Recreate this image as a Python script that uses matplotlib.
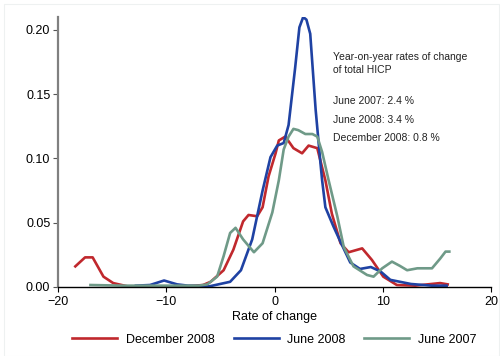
#density of HICP rates of change, three dates
import numpy as np
import matplotlib.pyplot as plt
from matplotlib.patches import Rectangle

plt.rcParams['font.family'] = ['Liberation Sans', 'DejaVu Sans']

#December 2008
dec08_x = [-18.4, -17.5, -16.8, -15.8, -14.9, -13.6, -12, -10, -8, -6.6, -5.9, -4.7, -3.8, -2.9, -2.4, -1.6, -1.1,
           -0.55, 0.1, 0.4, 1.0, 1.75, 2.55, 3.15, 3.95, 4.7, 5.3, 6.1, 6.85, 8.1, 9.0, 10.05, 11.3, 13, 15.3, 16]
dec08_y = [0.016, 0.023, 0.023, 0.008, 0.003, 0.0005, 0.0003, 0.0003, 0.0005, 0.0015, 0.004, 0.013, 0.029, 0.051, 0.056,
           0.055, 0.062, 0.086, 0.104, 0.114, 0.117, 0.108, 0.104, 0.110, 0.108, 0.083, 0.057, 0.034, 0.027, 0.030,
           0.021, 0.008, 0.0015, 0.001, 0.003, 0.002]
#June 2008
jun08_x = [-12.8, -11.5, -10.2, -9, -8, -6, -4.1, -3.1, -2.06, -1.1, -0.37, 0.25, 0.85, 1.3, 1.9, 2.3, 2.65, 2.95, 3.3,
           3.8, 4.25, 4.4, 4.7, 5.45, 6.1, 7.0, 7.9, 8.9, 9.8, 10.7, 12.6, 14.5, 15.9]
jun08_y = [0.001, 0.0015, 0.005, 0.002, 0.001, 0.0005, 0.004, 0.013, 0.037, 0.075, 0.101, 0.110, 0.112, 0.126, 0.170,
           0.202, 0.210, 0.208, 0.197, 0.138, 0.096, 0.083, 0.062, 0.047, 0.035, 0.019, 0.014, 0.0155, 0.012, 0.0055,
           0.0023, 0.001, 0.001]
#June 2007
jun07_x = [-17, -14, -10, -7, -6.2, -5.3, -4.7, -4.1, -3.6, -2.9, -1.9, -1.1, -0.2, 0.4, 0.85, 1.3, 1.75, 2.2, 2.85,
           3.5, 3.95, 4.4, 5.0, 5.8, 6.4, 7.3, 8.55, 9.15, 9.95, 10.85, 11.6, 12.25, 13.2, 14.55, 15.3, 15.8, 16.15]
jun07_y = [0.0015, 0.001, 0.001, 0.001, 0.002, 0.008, 0.024, 0.042, 0.046, 0.037, 0.027, 0.034, 0.058, 0.083, 0.107,
           0.117, 0.123, 0.122, 0.119, 0.119, 0.117, 0.105, 0.083, 0.055, 0.031, 0.016, 0.0093, 0.008, 0.0145, 0.0197,
           0.0163, 0.013, 0.0145, 0.0145, 0.022, 0.0275, 0.0275]

notes = ['Year-on-year rates of change', 'of total HICP', 'June 2007: 2.4 %', 'June 2008: 3.4 %',
         'December 2008: 0.8 %']
notes_y = [0.179, 0.169, 0.1446, 0.130, 0.116]

fig = plt.figure(figsize=(5, 3.56), dpi=100)
ax = fig.add_axes([0.116, 0.194, 0.866, 0.758])
#faint frame around the picture
fig.patches.append(Rectangle((0.008, 0.0), 0.99, 0.988, transform=fig.transFigure, fill=False,
                             edgecolor='#eef1f1', linewidth=0.8))

ax.plot(dec08_x, dec08_y, color='#c0282d', lw=1.9, solid_joinstyle='round', label='December 2008')
ax.plot(jun08_x, jun08_y, color='#1f42a3', lw=1.9, solid_joinstyle='round', label='June 2008')
ax.plot(jun07_x, jun07_y, color='#6f9a88', lw=1.9, solid_joinstyle='round', label='June 2007')

ax.set_xlim(-20, 20)
ax.set_ylim(0, 0.21)
ax.set_xticks([-20, -10, 0, 10, 20])
ax.set_yticks([0, 0.05, 0.10, 0.15, 0.20])
ax.set_yticklabels(['0.00', '0.05', '0.10', '0.15', '0.20'])
ax.tick_params(axis='both', labelsize=9, direction='out', length=3.5, pad=3)
ax.tick_params(axis='y', color='#555555', pad=2)
for s in ['top', 'right']:
    ax.spines[s].set_visible(False)
ax.spines['left'].set_color('#808080')
ax.spines['left'].set_linewidth(1.6)
ax.spines['bottom'].set_linewidth(1.0)
ax.set_xlabel('Rate of change', fontsize=9, labelpad=2)

for t, ty in zip(notes, notes_y):
    ax.text(5.45, ty, t, fontsize=7.5, va='center', color='#222222')

ax.legend(loc='center', bbox_to_anchor=(0.50, -0.196), ncol=3, frameon=False, fontsize=9,
          handlelength=3.6, columnspacing=1.5, handletextpad=0.7)

plt.savefig('out.png', dpi=100)
